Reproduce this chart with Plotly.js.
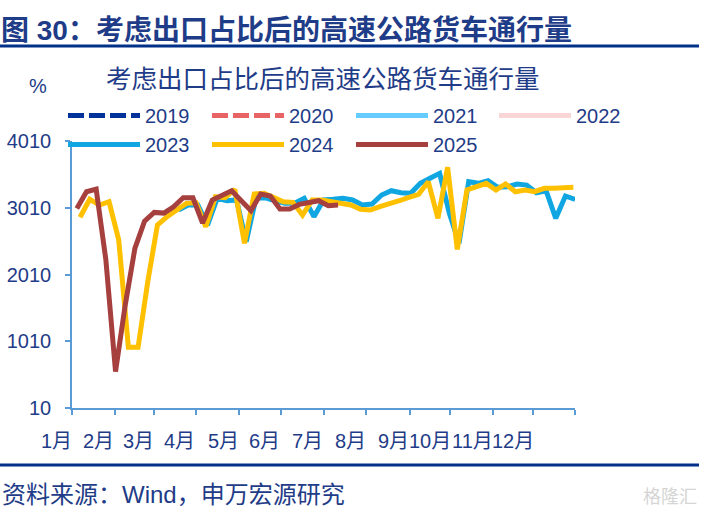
<!DOCTYPE html>
<html><head><meta charset="utf-8">
<script src="https://cdn.plot.ly/plotly-3.0.1.min.js"></script>
<style>html,body{margin:0;padding:0;background:#fff}#c{width:707px;height:515px}</style>
</head><body><div id="c"></div>
<script>
const monthLabels=['1月','2月','3月','4月','5月','6月','7月','8月','9月','10月','11月','12月'];
const monthTicks=[0,4.43,8.48,12.8,17.3,21.6,26,30.4,34.9,39.1,43.5,47.7,52];
const yTicks=[10,1010,2010,3010,4010];
const emptyYear=[null,null];
const v2023=[null,null,null,null,null,null,null,null,null,null,2976,3051,3051,2751,3151,3115,3126,2501,3151,3160,3115,3076,3076,3151,2876,3126,3136,3151,3126,3051,3066,3201,3265,3235,3226,3376,3451,3526,2926,2477,3400,3376,3415,3316,3325,3366,3350,3235,3265,2852,3186,3136];
const v2024=[2867,3137,3051,3100,2527,919,919,1900,2751,2876,2976,3076,3085,2726,3175,3160,3286,2477,3216,3226,3166,3100,3091,2901,3126,3126,3100,3076,3051,2986,2976,3026,3061,3115,3166,3211,3400,2852,3616,2387,3276,3325,3376,3276,3366,3250,3276,3250,3301,3301,3316,3316];
const v2025=[3000,3250,3290,2230,555,1550,2400,2810,2940,2930,3025,3160,3160,2780,3125,3190,3265,3115,2965,3215,3185,2990,2990,3060,3090,3115,3040,3050];

const navy='#1F3C88', axisBlue='#5B9BD5';
const font='"Liberation Sans","Noto Sans CJK SC",sans-serif';
const L=72,R=575,T=141,B=408;
const px=x=>(x-L)/(R-L), py=y=>(B-y)/(B-T);
const tr=(name,y,color,x0,legend,dash)=>({type:'scatter',mode:'lines',name,y,x0,dx:1,legend,
  line:{color,width:5,dash:dash||'solid'},hoverinfo:'skip',connectgaps:false});
const data=[
 tr('2019',emptyYear,'#003399',0.5,'legend','16px 5px'),
 tr('2020',emptyYear,'#E86464',0.5,'legend2','16px 5px'),
 tr('2021',emptyYear,'#66CCFF',0.5,'legend3'),
 tr('2022',emptyYear,'#F9D5D5',0.5,'legend4'),
 tr('2023',v2023,'#0FA6E2',1.01,'legend'),
 tr('2024',v2024,'#FFC000',0.83,'legend2'),
 tr('2025',v2025,'#A5403F',0.5,'legend3')
];
const txt=(text,xp,yp,size,anchor,extra)=>Object.assign({text,xref:'paper',yref:'paper',x:px(xp),y:py(yp),
  xanchor:anchor,yanchor:'middle',showarrow:false,font:{family:font,size,color:navy}},extra||{});
const annotations=[
 txt('<b>图 30：考虑出口占比后的高速公路货车通行量</b>',-1,30,28,'left'),
 txt('考虑出口占比后的高速公路货车通行量',323,79,25.5,'center'),
 txt('%',38,86,20,'center'),
 txt('资料来源：Wind，申万宏源研究',0,494,24,'left'),
 txt('格隆汇',699,497,18,'right',{font:{family:font,size:18,color:'#D5D5D5'}})
];
monthLabels.forEach((m,i)=>annotations.push({text:m,xref:'x',yref:'paper',x:monthTicks[i],y:py(441),
  xshift:-16-(i>8?4:0),xanchor:'center',yanchor:'middle',showarrow:false,font:{family:font,size:20,color:navy}}));
const leg=xp=>({orientation:'v',x:px(xp),y:py(96),xanchor:'left',yanchor:'top',itemwidth:72,
   font:{family:font,size:20,color:navy},bgcolor:'rgba(0,0,0,0)',itemclick:false,itemdoubleclick:false,traceorder:'normal'});
const layout={width:707,height:515,margin:{l:L,r:707-R,t:T,b:515-B,pad:0,autoexpand:false},paper_bgcolor:'#fff',plot_bgcolor:'#fff',
 showlegend:true,
 legend:leg(63),legend2:leg(207),legend3:leg(351),legend4:leg(494),
 xaxis:{type:'linear',range:[0,52],tickmode:'array',tickvals:monthTicks,ticktext:monthTicks.map(()=>''),ticks:'outside',ticklen:5,tickwidth:1.5,tickcolor:axisBlue,
   showline:true,linecolor:axisBlue,linewidth:1.5,showgrid:false,zeroline:false,fixedrange:true},
 yaxis:{range:[10,4010],tickmode:'array',tickvals:yTicks,ticktext:yTicks.map(String),ticks:'outside',ticklen:5,tickwidth:1.5,tickcolor:axisBlue,
   showline:true,linecolor:axisBlue,linewidth:1.5,showgrid:false,zeroline:false,fixedrange:true,ticklabelstandoff:10,
   tickfont:{family:font,size:20,color:navy}},
 annotations,
 shapes:[
  {type:'line',xref:'paper',yref:'paper',x0:px(0),x1:px(699),y0:py(46),y1:py(46),line:{color:'#003087',width:3}},
  {type:'line',xref:'paper',yref:'paper',x0:px(0),x1:px(699),y0:py(465),y1:py(465),line:{color:'#003087',width:3}}
 ]
};
Plotly.newPlot('c',data,layout,{displayModeBar:false,staticPlot:false});
</script></body></html>
